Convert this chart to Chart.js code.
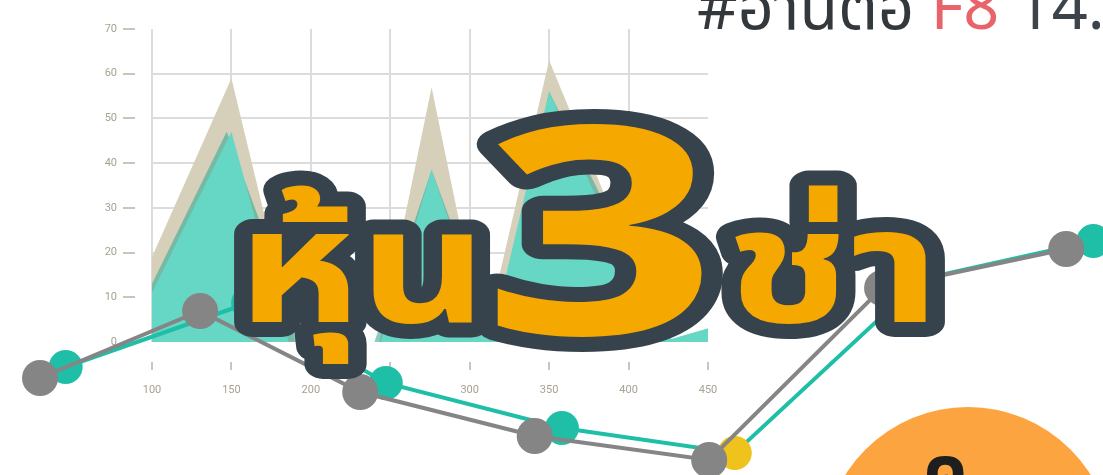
<!DOCTYPE html>
<html>
<head>
<meta charset="utf-8">
<script src="https://cdn.jsdelivr.net/npm/chart.js@4.4.1/dist/chart.umd.min.js"></script>
<style>
  html, body { margin: 0; padding: 0; background: #ffffff; }
  #wrap { position: relative; width: 1103px; height: 475px; overflow: hidden; background: #ffffff; }
  #wrap canvas { position: absolute; left: 0; top: 0; }
  #circle { position: absolute; left: 823px; top: 407px; width: 290px; height: 290px; border-radius: 50%; background: #fca440; }
  svg.overlay { position: absolute; left: 0; top: 0; }
</style>
</head>
<body>
<div id="wrap">
  <canvas id="area" width="1103" height="475"></canvas>
  <div id="circle"></div>
  <canvas id="lines" width="1103" height="475"></canvas>
  <svg class="overlay" width="1103" height="475" xmlns="http://www.w3.org/2000/svg">
    <g font-family="'Noto Sans Thai', 'Noto Sans', 'DejaVu Sans', sans-serif" font-weight="bold" fill="#f5a800" stroke="#37434c" stroke-width="30" stroke-linejoin="round" paint-order="stroke">
      <text x="237" y="322" font-size="160" textLength="250" lengthAdjust="spacingAndGlyphs">หุ้น</text>
      <text x="482" y="334" font-size="290" textLength="236" lengthAdjust="spacingAndGlyphs">3</text>
      <text x="726" y="322" font-size="160" textLength="214" lengthAdjust="spacingAndGlyphs">ช่า</text>
    </g>
    <text x="697" y="29" font-family="'Noto Sans Thai', 'Noto Sans', sans-serif" font-size="63" fill="#33383d" xml:space="preserve"><tspan>#อ่านต่อ </tspan><tspan fill="#e8646a">F8</tspan><tspan fill="#3d434a"> 14.</tspan></text>
    <text x="922" y="497" font-family="'Noto Sans Thai', sans-serif" font-weight="bold" font-size="72" fill="#1e1e1e">ค</text>
  </svg>
</div>
<script>
// ---------- area chart data (x axis value, y value) ----------
const xTickValues = [100, 150, 200, 250, 300, 350, 400, 450];
const yTickValues = [0, 10, 20, 30, 40, 50, 60, 70];

const beigeX = [100, 150, 190, 243, 276, 309, 350, 423, 450];
const beigeY = [19, 59, 0, 0, 57, 0, 63, 0, 3];

const tealBandX = [100, 147, 196, 240, 276, 316, 350, 428, 450];
const tealBandY = [13, 47, 0, 0, 38.5, 0, 56, 0, 3];

const tealX = [100, 150, 186, 244, 276, 313, 350, 420, 450];
const tealY = [11, 47, 0, 0, 38.5, 0, 56, 0, 3];

// ---------- overlaid line series (position index, value) ----------
const grayLineX = [0, 1, 2, 3.09, 4.18, 5.26, 6.41];
const grayLineY = [9.7, 16.4, 8.3, 3.9, 1.5, 18.7, 22.6];

const tealLineX = [0.16, 1.3, 2.16, 3.26, 4.34, 5.51, 6.58];
const tealLineY = [10.8, 17.2, 9.2, 4.7, 2.2, 19.6, 23.4];
const tealPointColors = ['#1fbfa7', '#1fbfa7', '#1fbfa7', '#1fbfa7', '#efc21c', '#1fbfa7', '#1fbfa7'];

const zip = (xs, ys) => xs.map((x, i) => ({ x: x, y: ys[i] }));

const tickColor = '#a8a190';
const gridColor = '#dcdcdc';

new Chart(document.getElementById('area'), {
  type: 'line',
  data: {
    datasets: [
      { data: zip(tealX, tealY), fill: 'origin', backgroundColor: '#66d6c5', borderWidth: 0, pointRadius: 0, tension: 0 },
      { data: zip(tealBandX, tealBandY), fill: 'origin', backgroundColor: 'rgba(40,165,145,0.55)', borderWidth: 0, pointRadius: 0, tension: 0 },
      { data: zip(beigeX, beigeY), fill: 'origin', backgroundColor: '#d6d0ba', borderWidth: 0, pointRadius: 0, tension: 0 }
    ]
  },
  options: {
    responsive: false,
    animation: false,
    events: [],
    layout: { autoPadding: false, padding: { left: 0, right: 395, top: 29, bottom: 73 } },
    plugins: { legend: { display: false }, tooltip: { enabled: false } },
    scales: {
      x: {
        type: 'linear', min: 100, max: 450,
        afterBuildTicks: s => { s.ticks = xTickValues.map(v => ({ value: v })); },
        afterFit: s => { s.height = 60; },
        border: { display: false },
        grid: {
          color: c => (c.tick && c.tick.value === 450) ? 'rgba(0,0,0,0)' : gridColor,
          lineWidth: 2,
          tickLength: 28,
          tickColor: '#b8b2a2',
          tickWidth: 1.5,
          tickBorderDash: [8, 20],
          tickBorderDashOffset: 8
        },
        ticks: { color: tickColor, padding: 14, font: { family: 'Roboto', size: 11 }, maxRotation: 0 }
      },
      y: {
        type: 'linear', min: 0, max: 70,
        afterBuildTicks: s => { s.ticks = yTickValues.map(v => ({ value: v })); },
        afterFit: s => { s.width = 152; },
        border: { display: false },
        grid: {
          color: c => (c.tick && (c.tick.value === 0 || c.tick.value === 70)) ? 'rgba(0,0,0,0)' : gridColor,
          lineWidth: 2,
          tickLength: 29,
          tickColor: '#b8b2a2',
          tickWidth: 1.5,
          tickBorderDash: [12, 17]
        },
        ticks: { color: tickColor, padding: 6, font: { family: 'Roboto', size: 11 } }
      }
    }
  }
});

new Chart(document.getElementById('lines'), {
  type: 'line',
  data: {
    datasets: [
      { data: zip(grayLineX, grayLineY), borderColor: '#858585', borderWidth: 4, pointRadius: 18, pointBackgroundColor: '#858585', pointBorderWidth: 0, tension: 0, fill: false, clip: false },
      { data: zip(tealLineX, tealLineY), borderColor: '#1fbfa7', borderWidth: 4, pointRadius: 17, pointBackgroundColor: tealPointColors, pointBorderWidth: 0, tension: 0, fill: false, clip: false }
    ]
  },
  options: {
    responsive: false,
    animation: false,
    events: [],
    layout: { autoPadding: false, padding: 0 },
    plugins: { legend: { display: false }, tooltip: { enabled: false } },
    scales: {
      x: { type: 'linear', display: false, min: -0.25, max: 6.64 },
      y: { type: 'linear', display: false, min: 0, max: 47.5 }
    }
  }
});
</script>
</body>
</html>
